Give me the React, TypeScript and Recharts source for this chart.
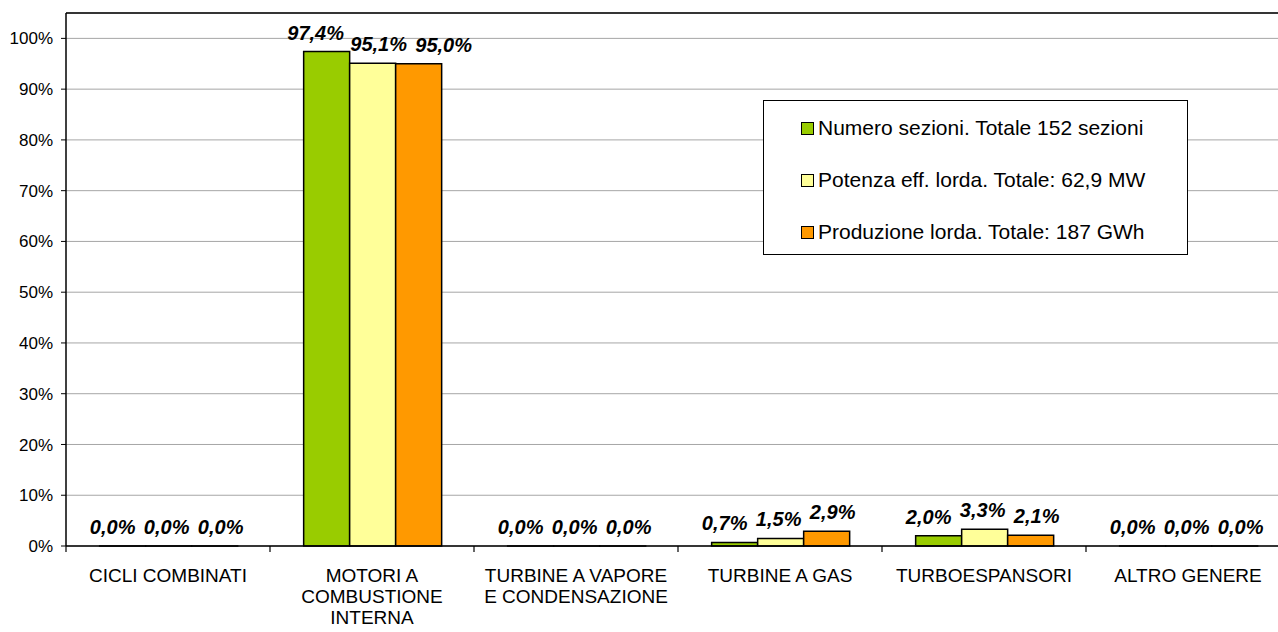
import React from "react";
import {
  BarChart,
  Bar,
  XAxis,
  YAxis,
  CartesianGrid,
  Legend,
  LabelList,
  ReferenceLine,
} from "recharts";

const categories = [
  "CICLI COMBINATI",
  "MOTORI A\nCOMBUSTIONE\nINTERNA",
  "TURBINE A VAPORE\nE CONDENSAZIONE",
  "TURBINE A GAS",
  "TURBOESPANSORI",
  "ALTRO GENERE",
];

const numeroSezioni = [0, 97.4, 0, 0.7, 2.0, 0];
const potenzaEff = [0, 95.1, 0, 1.5, 3.3, 0];
const produzioneLorda = [0, 95.0, 0, 2.9, 2.1, 0];

const seriesNames = [
  "Numero sezioni. Totale 152 sezioni",
  "Potenza eff. lorda. Totale: 62,9 MW",
  "Produzione lorda. Totale: 187 GWh",
];

const yTicks = [0, 10, 20, 30, 40, 50, 60, 70, 80, 90, 100];

const data = categories.map((name, i) => ({
  name,
  numero: numeroSezioni[i],
  potenza: potenzaEff[i],
  produzione: produzioneLorda[i],
}));

const FONT = "'Liberation Sans', Arial, sans-serif";
const CHART_W = 1292;
const CHART_H = 632;
const Y_AXIS_W = 66;
const MARGIN = { top: 13, right: 2, left: 0, bottom: 0 };
const BAND = (CHART_W - MARGIN.right - Y_AXIS_W) / categories.length;

const series = [
  { key: "numero", color: "#99CC00" },
  { key: "potenza", color: "#FFFF99" },
  { key: "produzione", color: "#FF9900" },
];

// excel spreads the labels a bit sideways
const SHORT_DX = [-10, -2, 6];
const LONG_DX = [-11, 6, 25];

const fmt = (v: number) => v.toFixed(1).replace(".", ",") + "%";

const makeLabel = (idx: number) => (props: any) => {
  const { x, y, width, height, value } = props;
  const text = fmt(Number(value));
  const dx = text.length > 4 ? LONG_DX[idx] : SHORT_DX[idx];
  // zero bars get a tiny min size, measure from their base
  const top = Number(height) < 1 ? Number(y) + Number(height) : Number(y);
  return (
    <text
      x={Number(x) + Number(width) / 2 + dx}
      y={top - 12}
      textAnchor="middle"
      fontFamily={FONT}
      fontSize={20}
      fontWeight="bold"
      fontStyle="italic"
      fill="#000"
    >
      {text}
    </text>
  );
};

function CategoryTick(props: any) {
  const { x, y, payload } = props;
  const lines = String(payload.value).split("\n");
  const left = x - BAND / 2;
  return (
    <g>
      <line x1={left} y1={y} x2={left} y2={y + 6} stroke="#000" strokeWidth={1.2} />
      <text x={x} y={y + 36} textAnchor="middle" fontFamily={FONT} fontSize={19} fill="#000">
        {lines.map((l, i) => (
          <tspan key={i} x={x} dy={i === 0 ? 0 : 21}>
            {l}
          </tspan>
        ))}
      </text>
    </g>
  );
}

function LegendBox() {
  return (
    <div
      style={{
        width: 425,
        height: 155,
        border: "1px solid #000",
        background: "#fff",
        boxSizing: "border-box",
        fontFamily: FONT,
        fontSize: 21,
        color: "#000",
        paddingTop: 1,
      }}
    >
      {series.map((s, i) => (
        <div
          key={s.key}
          style={{ display: "flex", alignItems: "center", height: 52, paddingLeft: 37 }}
        >
          <span
            style={{
              display: "inline-block",
              width: 11,
              height: 11,
              background: s.color,
              border: "1px solid #000",
              marginRight: 4,
            }}
          />
          <span>{seriesNames[i]}</span>
        </div>
      ))}
    </div>
  );
}

export default function App() {
  return (
    <div
      style={{
        position: "absolute",
        left: 0,
        top: 0,
        width: 1278,
        height: CHART_H,
        overflow: "hidden",
        background: "#fff",
      }}
    >
      <BarChart
        width={CHART_W}
        height={CHART_H}
        data={data}
        margin={MARGIN}
        barCategoryGap="16.5%"
        barGap={0}
      >
        <CartesianGrid vertical={false} stroke="#A6A6A6" strokeWidth={1} />
        <XAxis
          dataKey="name"
          interval={0}
          height={86}
          tickLine={false}
          tickSize={0}
          tickMargin={0}
          axisLine={{ stroke: "#000", strokeWidth: 1.5 }}
          tick={<CategoryTick />}
        />
        <YAxis
          width={Y_AXIS_W}
          domain={[0, 105]}
          ticks={yTicks}
          tickFormatter={(v: number) => `${v}%`}
          tickSize={5}
          tickMargin={8}
          tickLine={{ stroke: "#000" }}
          axisLine={{ stroke: "#000", strokeWidth: 1.5 }}
          tick={{ fontFamily: FONT, fontSize: 17, fill: "#000" }}
        />
        <ReferenceLine y={105} stroke="#000" strokeWidth={1.5} />
        <Legend
          layout="vertical"
          align="center"
          verticalAlign="middle"
          content={<LegendBox />}
          wrapperStyle={{ position: "absolute", left: 763, top: 100, width: 425 }}
        />
        {series.map((s, i) => (
          <Bar
            key={s.key}
            dataKey={s.key}
            name={seriesNames[i]}
            fill={s.color}
            stroke="#000"
            strokeWidth={1.5}
            minPointSize={(v: number) => (v === 0 ? 0.01 : 0)}
            isAnimationActive={false}
          >
            <LabelList dataKey={s.key} content={makeLabel(i)} />
          </Bar>
        ))}
      </BarChart>
    </div>
  );
}
